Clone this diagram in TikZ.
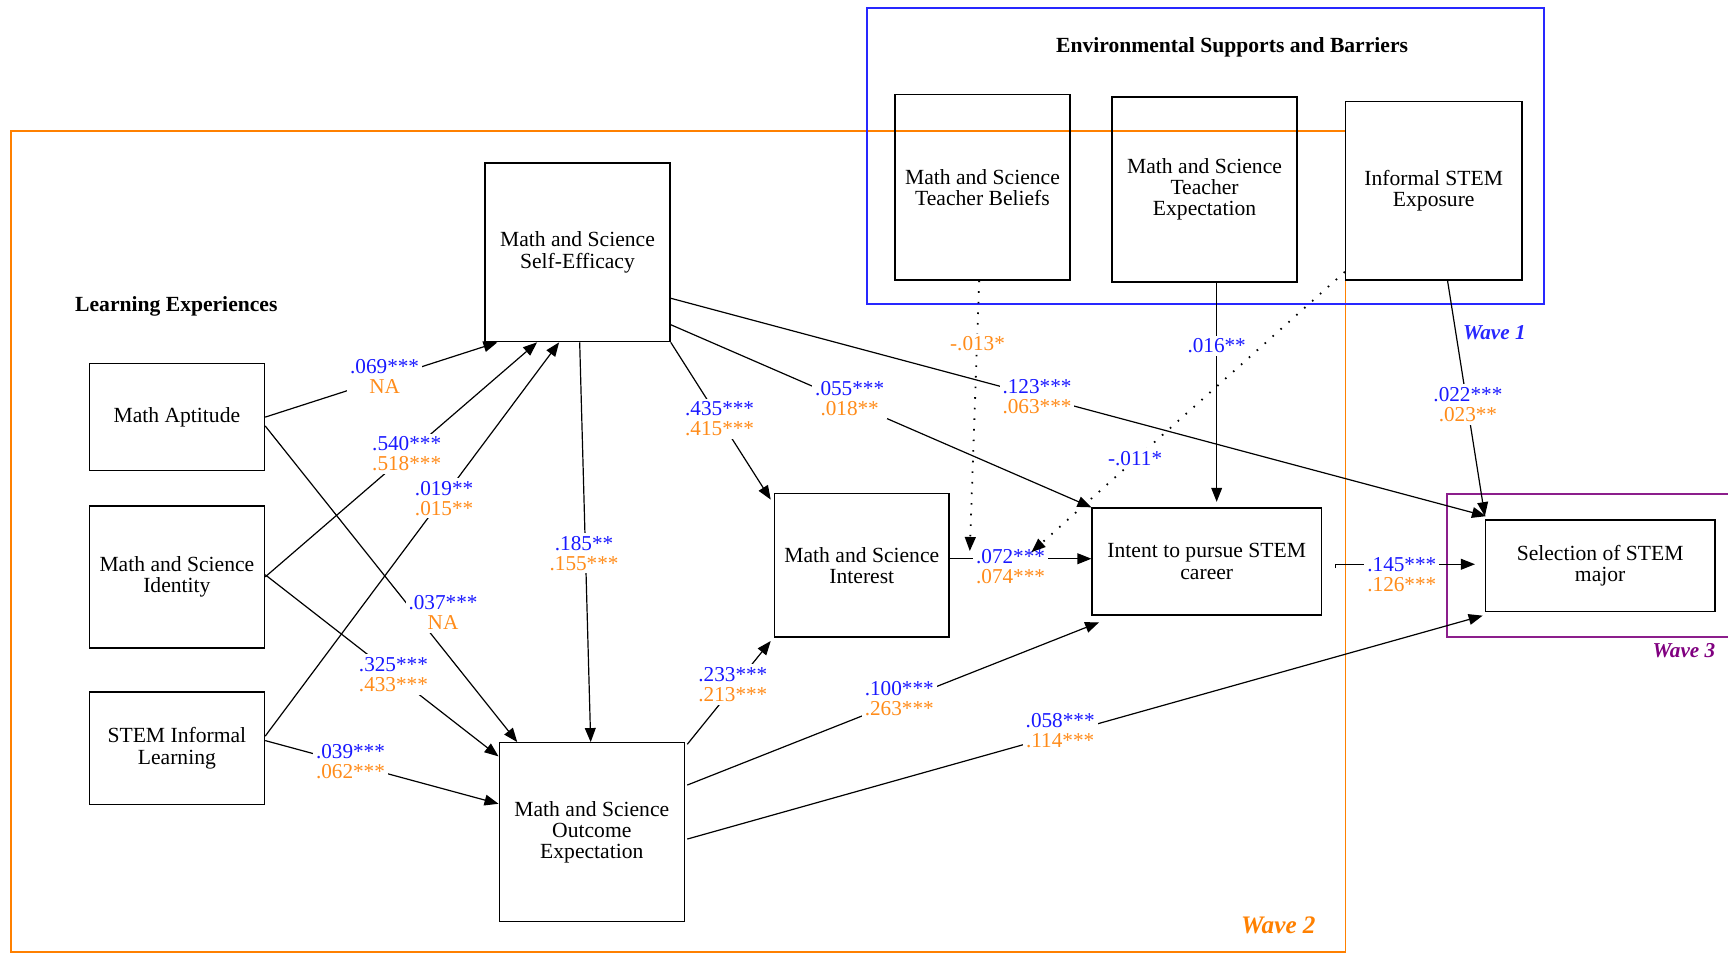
\documentclass[tikz,border=0pt]{standalone}
\usepackage{fontspec}
\setmainfont{Liberation Serif}
\usetikzlibrary{arrows.meta,calc}

\definecolor{coefblue}{RGB}{25,25,255}
\definecolor{coeforange}{RGB}{255,140,26}
\definecolor{frameorange}{RGB}{255,128,0}
\definecolor{frameblue}{RGB}{40,40,255}
\definecolor{framepurple}{RGB}{140,30,140}
\definecolor{textpurple}{RGB}{128,0,128}

\newcommand\boxfont{\fontsize{10.8}{10.6}\selectfont}
\newcommand\coeffont{\fontsize{10.6}{10}\selectfont}
\newcommand\bc[1]{\textcolor{coefblue}{#1}}
\newcommand\oc[1]{\textcolor{coeforange}{#1}}
\newcommand\pair[2]{\bc{#1}\\\oc{#2}}

\begin{document}
\begin{tikzpicture}[x=0.551pt,y=-0.551pt,
  box/.style={draw,line width=0.7pt,align=center,inner sep=0pt,font=\boxfont},
  sz/.style 2 args={minimum width=#1*0.551pt,minimum height=#2*0.551pt},
  link/.style={line width=0.6pt,-{Triangle[length=7pt,width=5.4pt]}},
  dotlink/.style={line width=0.9pt,dash pattern=on 0.8pt off 4.5pt,-{Triangle[length=7pt,width=5.4pt]}},
  coef/.style={fill=white,align=center,inner sep=1.5pt,font=\coeffont},
  title/.style={font=\boxfont\bfseries},
  wave/.style={font=\bfseries\itshape\fontsize{10.6}{12}\selectfont},
]
\useasboundingbox (0,0) rectangle (1568,865);

% wave frames
\draw[frameorange,line width=0.7pt] (10,119) rectangle (1221,864);
\draw[frameblue,line width=1pt] (787,7) rectangle (1401,276);
\draw[framepurple,line width=0.8pt] (1575,448) -| (1313,578) -- (1575,578);

\node[title] (envtitle) at (1118,43) {Environmental Supports and Barriers};
\node[title] (learntitle) at (160,278) {Learning Experiences};
\node[wave,text=frameblue] (wave1) at (1356,302) {Wave 1};
\node[wave,text=frameorange,font=\bfseries\itshape\fontsize{12.6}{14}\selectfont] (wave2) at (1160,840) {Wave 2};
\node[wave,text=textpurple] (wave3) at (1528,590) {Wave 3};

% constructs
\node[box,sz={159}{97}]  (apt)    at (160.5,378.5) {Math Aptitude};
\node[box,sz={159}{129}] (ident)  at (160.5,523.5) {Math and Science\\Identity};
\node[box,sz={159}{102}] (sinf)   at (160.5,679)   {STEM Informal\\Learning};
\node[box,sz={168}{162}] (se)     at (524,229)     {Math and Science\\Self-Efficacy};
\node[box,sz={168}{162}] (oe)     at (537,755)     {Math and Science\\Outcome\\Expectation};
\node[box,sz={158}{130}] (inter)  at (782,513)     {Math and Science\\Interest};
\node[box,sz={208}{97}]  (intent) at (1095,509.5)  {Intent to pursue STEM\\career};
\node[box,sz={208}{83}]  (sel)    at (1452,513.5)  {Selection of STEM\\major};
\node[box,sz={159}{168}] (tb)     at (891.5,170)   {Math and Science\\Teacher Beliefs};
\node[box,sz={168}{168}] (te)     at (1093,172)    {Math and Science\\Teacher\\Expectation};
\node[box,sz={160}{162}] (ise)    at (1301,173)    {Informal STEM\\Exposure};

% paths between constructs
\draw[link] (apt.east) -- ([shift={(12,0)}]se.south west);
\draw[link] (ident.east) -- ([shift={(48,0)}]se.south west);
\draw[link] ([shift={(0,-11)}]sinf.east) -- ([shift={(68,0)}]se.south west);
\draw[link] ([shift={(0,8)}]apt.east) -- ([shift={(17,0)}]oe.north west);
\draw[link] ([shift={(0,-2)}]ident.east) -- ([shift={(0,13)}]oe.north west);
\draw[link] ([shift={(0,-7)}]sinf.east) -- ([shift={(0,56)}]oe.north west);
\draw[link] ([shift={(2,0)}]se.south) -- ([shift={(-1,0)}]oe.north);
\draw[link] (se.south east) -- ([shift={(-3,6)}]inter.north west);
\draw[link] ([shift={(0,-16)}]se.south east) -- (intent.north west);
\draw[link] ([shift={(0,-40)}]se.south east) -- ([shift={(1,-3)}]sel.north west);
\draw[link] ([shift={(2,2)}]oe.north east) -- ([shift={(-3,3)}]inter.south west);
\draw[link] ([shift={(2,39)}]oe.north east) -- ([shift={(7,6)}]intent.south west);
\draw[link] ([shift={(2,88)}]oe.north east) -- ([shift={(-2,3)}]sel.south west);
\draw[link] ([shift={(0,-6)}]inter.east) -- ([shift={(0,-2.5)}]intent.west);
\draw[link] ([shift={(11,0)}]te.south) -- ([shift={(9,-5)}]intent.north);
\draw[link] ([shift={(12.5,0)}]ise.south) -- ([shift={(0,-3)}]sel.north west);
\draw[link] ([shift={(12,6)}]intent.east) -- ++(0,-3.5) -- ([shift={(-9,-1.5)}]sel.west);

% path coefficients
\node[coef] (c1)  at (349,342) {\pair{.069***}{NA}};
\node[coef] (c2)  at (369,412) {\pair{.540***}{.518***}};
\node[coef] (c3)  at (403,452) {\pair{.019**}{.015**}};
\node[coef] (c4)  at (402,556) {\pair{.037***}{NA}};
\node[coef] (c5)  at (357,612) {\pair{.325***}{.433***}};
\node[coef] (c6)  at (318,691) {\pair{.039***}{.062***}};
\node[coef] (c7)  at (530,502) {\pair{.185**}{.155***}};
\node[coef] (c8)  at (653,380) {\pair{.435***}{.415***}};
\node[coef] (c9)  at (771,362) {\pair{.055***}{.018**}};
\node[coef] (c10) at (941,360) {\pair{.123***}{.063***}};
\node[coef] (c11) at (665,621) {\pair{.233***}{.213***}};
\node[coef] (c12) at (816,634) {\pair{.100***}{.263***}};
\node[coef] (c13) at (962,663) {\pair{.058***}{.114***}};
\node[coef] (c14) at (917,514) {\pair{.072***}{.074***}};
\node[coef] (c16) at (1104,314) {\bc{.016**}};
\node[coef] (c18) at (1332,367) {\pair{.022***}{.023**}};
\node[coef] (c19) at (1272,521) {\pair{.145***}{.126***}};

% moderating paths onto the interest-intent link
\coordinate (tbend) at (880,500);
\coordinate (iseend) at (936,501);
\draw[dotlink] ([shift={(-3,0)}]tb.south) -- (tbend);
\draw[dotlink] ([shift={(0,-8)}]ise.south west) -- (iseend);
\node[coef] (c15) at (887,312) {\oc{-.013*}};
\node[coef] (c17) at (1030,416) {\bc{-.011*}};
\end{tikzpicture}
\end{document}
